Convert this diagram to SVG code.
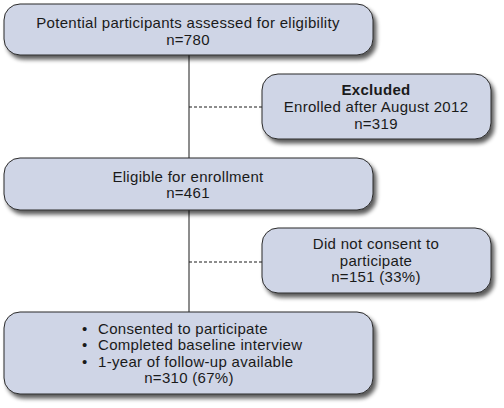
<svg xmlns="http://www.w3.org/2000/svg" width="504" height="408" viewBox="0 0 504 408">
<defs>
<filter id="sh" x="-10%" y="-20%" width="125%" height="150%">
<feGaussianBlur in="SourceAlpha" stdDeviation="2"/>
<feOffset dx="3" dy="4" result="b"/>
<feComponentTransfer><feFuncA type="linear" slope="0.65"/></feComponentTransfer>
<feMerge><feMergeNode/><feMergeNode in="SourceGraphic"/></feMerge>
</filter>
<style>
.box{fill:#cfd5e6;stroke:#2a2a2a;stroke-width:1;filter:url(#sh)}
text{font-family:"Liberation Sans",Arial,sans-serif;font-size:15px;letter-spacing:0.3px;fill:#1a1a1a}
.c{text-anchor:middle}
.b{font-weight:bold}
.solid{stroke:#1a1a1a;stroke-width:1;fill:none}
.dash{stroke:#1a1a1a;stroke-width:1;fill:none;stroke-dasharray:3,2}
</style>
</defs>
<rect width="504" height="408" fill="#ffffff"/>
<g id="connectors">
<line class="solid" x1="189" y1="55" x2="189" y2="158"/>
<line class="solid" x1="189" y1="210" x2="189" y2="312"/>
<line class="dash" x1="189" y1="107" x2="262" y2="107"/>
<line class="dash" x1="189" y1="262" x2="262" y2="262"/>
</g>
<g id="n1">
<rect class="box" x="4" y="4" width="369" height="51" rx="16"/>
<text class="c" x="188" y="27.5">Potential participants assessed for eligibility</text>
<text class="c" x="188" y="45">n=780</text>
</g>
<g id="n2">
<rect class="box" x="262" y="74" width="229" height="65" rx="16"/>
<text class="c b" x="376" y="95">Excluded</text>
<text class="c" x="376" y="112">Enrolled after August 2012</text>
<text class="c" x="376" y="128.5">n=319</text>
</g>
<g id="n3">
<rect class="box" x="4" y="158" width="369" height="52" rx="16"/>
<text class="c" x="188" y="181.5">Eligible for enrollment</text>
<text class="c" x="188" y="198">n=461</text>
</g>
<g id="n4">
<rect class="box" x="262" y="228" width="229" height="65" rx="16"/>
<text class="c" x="376" y="249">Did not consent to</text>
<text class="c" x="376" y="265.5">participate</text>
<text class="c" x="376" y="282">n=151 (33%)</text>
</g>
<g id="n5">
<rect class="box" x="4" y="312" width="369" height="82" rx="16"/>
<text x="82" y="333.5">•</text>
<text x="98" y="333.5">Consented to participate</text>
<text x="82" y="350">•</text>
<text x="98" y="350">Completed baseline interview</text>
<text x="82" y="366.5">•</text>
<text x="98" y="366.5">1-year of follow-up available</text>
<text class="c" x="189" y="383">n=310 (67%)</text>
</g>
</svg>
